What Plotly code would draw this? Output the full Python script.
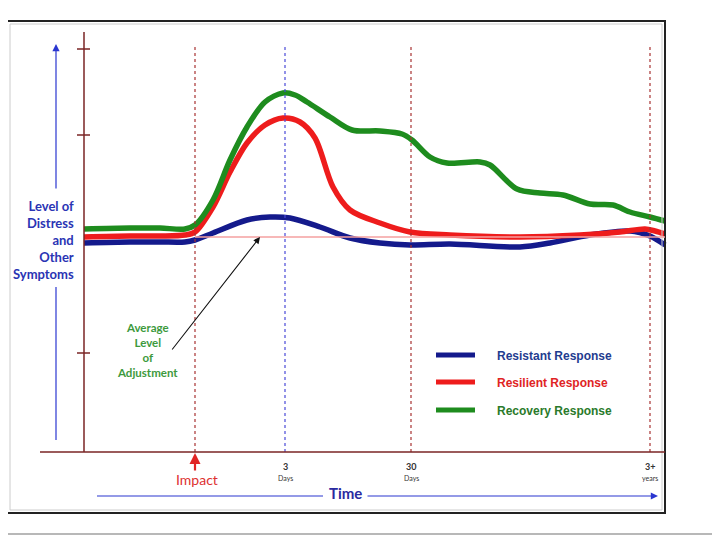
import plotly.graph_objects as go

# ---------------- data (schematic time position, level of distress) ----------------
resistant_t = [84, 130, 160, 185, 195, 213, 247, 270, 290, 320, 350, 380, 410, 450, 520, 550, 590, 630, 650, 665]
resistant_level = [297, 298, 298, 298, 300, 307, 320, 323, 322, 313, 302, 297, 295, 296, 293, 297, 305, 309, 304, 295]

resilient_t = [84, 130, 160, 185, 195, 213, 230, 247, 265, 283, 300, 315, 333, 350, 380, 410, 450, 520, 580, 620, 645, 655, 665]
resilient_level = [303, 304, 304, 305, 308, 333, 368, 397, 415, 422, 418, 402, 353, 330, 317, 308, 305, 303, 305, 308, 311, 309, 306]

recovery_t = [84, 130, 160, 185, 195, 213, 230, 247, 265, 283, 295, 307, 330, 352, 380, 402, 412, 430, 447, 480, 490, 517, 540, 563, 590, 613, 630, 650, 665]
recovery_level = [311, 312, 312, 311, 315, 340, 380, 413, 438, 447, 445, 438, 423, 410, 409, 406, 400, 383, 377, 378, 375, 351, 347, 345, 336, 335, 328, 323, 319]

series_names = ["Resistant Response", "Resilient Response", "Recovery Response"]
series_colors = ["#141a8c", "#ee1c1c", "#1e8c1e"]
legend_text_colors = ["#1f3c8f", "#e02424", "#2a7a2a"]

average_level = 303
milestone_t = [195, 285, 411, 650]
milestone_labels = ["", "<b>3</b>", "<b>30</b>", "<b>3+</b>"]
milestone_units = ["", "Days", "Days", "years"]
milestone_colors = ["#a83232", "#4a4ad8", "#a83232", "#a83232"]
y_ticks = [491, 405, 187]

H = 540
def P(py):
    return H - py

fig = go.Figure()

series = [(resistant_t, resistant_level), (resilient_t, resilient_level), (recovery_t, recovery_level)]

shapes = []
# outer slide frame
shapes.append(dict(type="rect", x0=2.5, x1=716.5, y0=P(534), y1=P(-5), line=dict(color="#b8b8b8", width=2)))
# inner box
shapes.append(dict(type="rect", x0=7, x1=665, y0=P(513), y1=P(21), line=dict(color="#222222", width=2)))
shapes.append(dict(type="rect", x0=10, x1=662, y0=P(510), y1=P(24), line=dict(color="#cccccc", width=1)))

# milestones (dashed verticals)
for t, c in zip(milestone_t, milestone_colors):
    shapes.append(dict(type="line", x0=t, x1=t, y0=P(452), y1=P(47), line=dict(color=c, width=1.2, dash="3px,3px")))

# average level line
shapes.append(dict(type="line", x0=195, x1=665, y0=average_level, y1=average_level, line=dict(color="#f4a0a0", width=1.5)))

# axes
shapes.append(dict(type="line", x0=84, x1=84, y0=P(452), y1=P(32), line=dict(color="#7a2424", width=1.5)))
shapes.append(dict(type="line", x0=40, x1=665, y0=P(452), y1=P(452), line=dict(color="#7a2424", width=1.5)))
for yt in y_ticks:
    shapes.append(dict(type="line", x0=77, x1=90, y0=yt, y1=yt, line=dict(color="#7a2424", width=1.5)))

# vertical blue arrow segment (lower part)
shapes.append(dict(type="line", x0=56, x1=56, y0=P(440), y1=P(287), line=dict(color="#2a36d0", width=1.2)))
# time arrow left segment
shapes.append(dict(type="line", x0=97, x1=323, y0=P(496), y1=P(496), line=dict(color="#2a36d0", width=1.2)))

for (t, lv), name, col in zip(series, series_names, series_colors):
    fig.add_trace(go.Scatter(x=t, y=lv, mode="lines", name=name,
                             line=dict(color=col, width=5.5, shape="spline", smoothing=0.9),
                             showlegend=False, hoverinfo="skip"))

# legend samples
legend_py = [355, 382, 410]
for name, col, tc, py in zip(series_names, series_colors, legend_text_colors, legend_py):
    shapes.append(dict(type="line", x0=436, x1=475, y0=P(py), y1=P(py), line=dict(color=col, width=5)))

annotations = []
FONT = "Lato"
for name, tc, py in zip(series_names, legend_text_colors, legend_py):
    annotations.append(dict(x=495, y=P(py + 1), text="<b>" + name + "</b>", showarrow=False,
                            xanchor="left", yanchor="middle",
                            font=dict(family="Liberation Sans, Arial", size=12, color=tc)))

# y-axis label
annotations.append(dict(x=76, y=P(240), text="<b>Level of<br>Distress<br>and<br>Other<br>Symptoms</b>",
                        showarrow=False, xanchor="right", yanchor="middle", align="right",
                        font=dict(family=FONT, size=13, color="#2a34b4")))
# blue up arrow (upper part)
annotations.append(dict(x=56, y=P(44), ax=56, ay=P(190), xref="x", yref="y", axref="x", ayref="y",
                        text="", showarrow=True, arrowhead=2, arrowsize=1.2, arrowwidth=1.2, arrowcolor="#2a36d0"))
# time arrow right part
annotations.append(dict(x=658, y=P(496), ax=366, ay=P(496), xref="x", yref="y", axref="x", ayref="y",
                        text="", showarrow=True, arrowhead=2, arrowsize=1.2, arrowwidth=1.2, arrowcolor="#2a36d0"))
annotations.append(dict(x=345, y=P(493), text="<b>Time</b>", showarrow=False, xanchor="center", yanchor="middle",
                        font=dict(family=FONT, size=15, color="#2a2aa0")))

# impact arrow
annotations.append(dict(x=195, y=P(453), ax=195, ay=P(472), xref="x", yref="y", axref="x", ayref="y",
                        text="", showarrow=True, arrowhead=2, arrowsize=1.0, arrowwidth=2.2, arrowcolor="#e02424"))
annotations.append(dict(x=197, y=P(479), text="Impact", showarrow=False, xanchor="center", yanchor="middle",
                        font=dict(family=FONT, size=14, color="#dd3030")))

# milestone labels
for t, lab, unit in zip(milestone_t, milestone_labels, milestone_units):
    if lab:
        annotations.append(dict(x=t, y=P(466), text=lab, showarrow=False, xanchor="center", yanchor="middle",
                                font=dict(family=FONT, size=9, color="#333333")))
        annotations.append(dict(x=t, y=P(478), text=unit, showarrow=False, xanchor="center", yanchor="middle",
                                font=dict(family=FONT, size=7, color="#333333")))

# average level label + arrow
annotations.append(dict(x=147, y=P(350), text="<b>Average<br>Level<br>of<br>Adjustment</b>", showarrow=False,
                        xanchor="center", yanchor="middle", align="center",
                        font=dict(family=FONT, size=11.5, color="#3d9a3d")))
annotations.append(dict(x=260, y=P(237), ax=171, ay=P(351), xref="x", yref="y", axref="x", ayref="y",
                        text="", showarrow=True, arrowhead=2, arrowsize=1.2, arrowwidth=1.1, arrowcolor="#111111"))

# the page body adds an 8px offset; size and range the figure so data units land on page pixels
fig.update_layout(
    width=712, height=532,
    margin=dict(l=0, r=0, t=0, b=0),
    paper_bgcolor="white", plot_bgcolor="white",
    xaxis=dict(range=[8, 720], visible=False, fixedrange=True),
    yaxis=dict(range=[0, 532], visible=False, fixedrange=True),
    shapes=shapes, annotations=annotations, showlegend=False,
)

fig.write_html("out.html")
